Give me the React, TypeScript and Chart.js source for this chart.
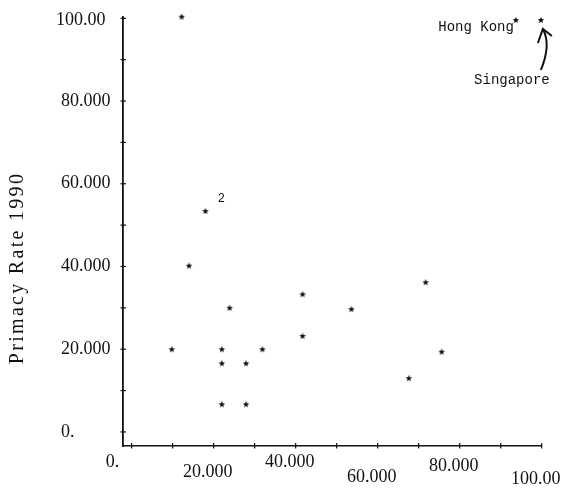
import React, { useEffect, useRef } from "react";
import { Chart, registerables } from "chart.js";
Chart.register(...registerables);

// Data
const xValues = [12.2, 18.0, 14.0, 23.9, 9.8, 22.0, 31.9, 22.0, 27.9, 22.0, 27.9, 41.7, 41.7, 53.6, 71.7, 75.6, 67.6, 93.7, 99.8];
const yValues = [100.4, 53.4, 40.2, 30.0, 20.0, 20.0, 20.0, 16.6, 16.6, 6.7, 6.7, 33.3, 23.2, 29.7, 36.2, 19.4, 13.0, 99.6, 99.6];

const xTickValues = [0, 20, 40, 60, 80, 100];
const xTickLabels = ["0.", "20.000", "40.000", "60.000", "80.000", "100.00"];
const yTickValues = [100, 80, 60, 40, 20, 0];
const yTickLabels = ["100.00", "80.000", "60.000", "40.000", "20.000", "0."];

const yTitle = "Primacy Rate 1990";
const hongKongLabel = "Hong Kong";
const singaporeLabel = "Singapore";
const duplicateLabel = "2";
const hongKongIndex = 17;
const singaporeIndex = 18;
const duplicateIndex = 1;

function makeStar(): HTMLCanvasElement {
  const c = document.createElement("canvas");
  c.width = 8;
  c.height = 8;
  const g = c.getContext("2d")!;
  g.fillStyle = "#111";
  g.beginPath();
  const cx = 4, cy = 4.2, ro = 3.4, ri = 1.5;
  for (let k = 0; k < 10; k++) {
    const r = k % 2 === 0 ? ro : ri;
    const a = -Math.PI / 2 + (k * Math.PI) / 5;
    const px = cx + r * Math.cos(a);
    const py = cy + r * Math.sin(a);
    if (k === 0) g.moveTo(px, py);
    else g.lineTo(px, py);
  }
  g.closePath();
  g.fill();
  return c;
}

const decorPlugin = {
  id: "decor",
  afterDraw(chart: any) {
    const ctx = chart.ctx as CanvasRenderingContext2D;
    const xs = chart.scales.x;
    const ys = chart.scales.y;
    const area = chart.chartArea;
    ctx.save();
    ctx.strokeStyle = "#111";
    ctx.fillStyle = "#111";
    ctx.lineWidth = 1.2;
    // tick marks
    for (let v = 0; v <= 100; v += 10) {
      const py = ys.getPixelForValue(v);
      ctx.beginPath();
      ctx.moveTo(area.left - 2.5, py);
      ctx.lineTo(area.left + 3, py);
      ctx.stroke();
      const px = xs.getPixelForValue(v);
      ctx.beginPath();
      ctx.moveTo(px, area.bottom - 3);
      ctx.lineTo(px, area.bottom + 2.5);
      ctx.stroke();
    }
    // y tick labels
    ctx.font = "18px 'Liberation Serif'";
    ctx.textAlign = "left";
    ctx.textBaseline = "middle";
    yTickValues.forEach((v, i) => {
      const py = ys.getPixelForValue(v) + (v === 100 ? 2 : 0);
      const lx = v === 100 ? 56 : 61;
      ctx.fillText(yTickLabels[i], lx, py);
    });
    // x tick labels (staggered like the original print)
    const dy = [16, 26, 16, 31, 20, 33];
    ctx.textAlign = "center";
    xTickValues.forEach((v, i) => {
      const px = xs.getPixelForValue(v) + (v === 0 ? -19 : -6);
      ctx.fillText(xTickLabels[i], px, area.bottom + dy[i]);
    });
    // y axis title
    ctx.save();
    ctx.translate(18, 268);
    ctx.rotate(-Math.PI / 2);
    ctx.font = "20px 'Liberation Serif'";
    (ctx as any).letterSpacing = "2.3px";
    ctx.textAlign = "center";
    ctx.textBaseline = "middle";
    ctx.fillText(yTitle, 0, 0);
    ctx.restore();
    // annotations
    const pt = (i: number) => ({ x: xs.getPixelForValue(xValues[i]), y: ys.getPixelForValue(yValues[i]) });
    ctx.font = "14px 'Liberation Mono'";
    ctx.textBaseline = "middle";
    const hk = pt(hongKongIndex);
    ctx.textAlign = "right";
    ctx.fillText(hongKongLabel, hk.x - 2, hk.y + 7);
    const sg = pt(singaporeIndex);
    ctx.textAlign = "center";
    ctx.fillText(singaporeLabel, sg.x - 29, sg.y + 60);
    const dp = pt(duplicateIndex);
    ctx.font = "12px 'Liberation Mono'";
    ctx.fillText(duplicateLabel, dp.x + 16, dp.y - 12);
    // curved arrow pointing at Singapore
    ctx.lineWidth = 2;
    ctx.beginPath();
    ctx.moveTo(sg.x, sg.y + 50);
    ctx.quadraticCurveTo(sg.x + 10.5, sg.y + 24.5, sg.x + 2, sg.y + 9);
    ctx.stroke();
    ctx.beginPath();
    ctx.moveTo(sg.x - 3, sg.y + 23);
    ctx.lineTo(sg.x + 2, sg.y + 9);
    ctx.lineTo(sg.x + 11, sg.y + 16);
    ctx.stroke();
    ctx.restore();
  },
};

export default function App() {
  const ref = useRef<HTMLCanvasElement | null>(null);
  useEffect(() => {
    if (!ref.current) return;
    const star = makeStar();
    const chart = new Chart(ref.current, {
      type: "scatter",
      data: {
        datasets: [
          {
            data: xValues.map((x, i) => ({ x, y: yValues[i] })),
            pointStyle: star as any,
            radius: 4,
            borderWidth: 0,
            borderColor: "#111",
            backgroundColor: "#111",
            clip: false as any,
          },
        ],
      },
      options: {
        animation: false,
        responsive: false,
        events: [],
        layout: { padding: { left: 123, right: 32.3, top: 16.7, bottom: 48 } },
        plugins: { legend: { display: false }, tooltip: { enabled: false } },
        scales: {
          x: {
            type: "linear",
            min: -2.1,
            max: 100,
            ticks: { display: false },
            grid: { display: false, drawTicks: false },
            border: { display: true, color: "#111", width: 1.6 },
          },
          y: {
            type: "linear",
            min: -3.4,
            max: 100.39,
            ticks: { display: false },
            grid: { display: false, drawTicks: false },
            border: { display: true, color: "#111", width: 1.8 },
          },
        },
      },
      plugins: [decorPlugin],
    });
    return () => chart.destroy();
  }, []);
  return (
    <div style={{ position: "absolute", left: 0, top: 0, width: 574, height: 494, background: "#fff" }}>
      <canvas ref={ref} width={574} height={494} style={{ display: "block" }} />
    </div>
  );
}
